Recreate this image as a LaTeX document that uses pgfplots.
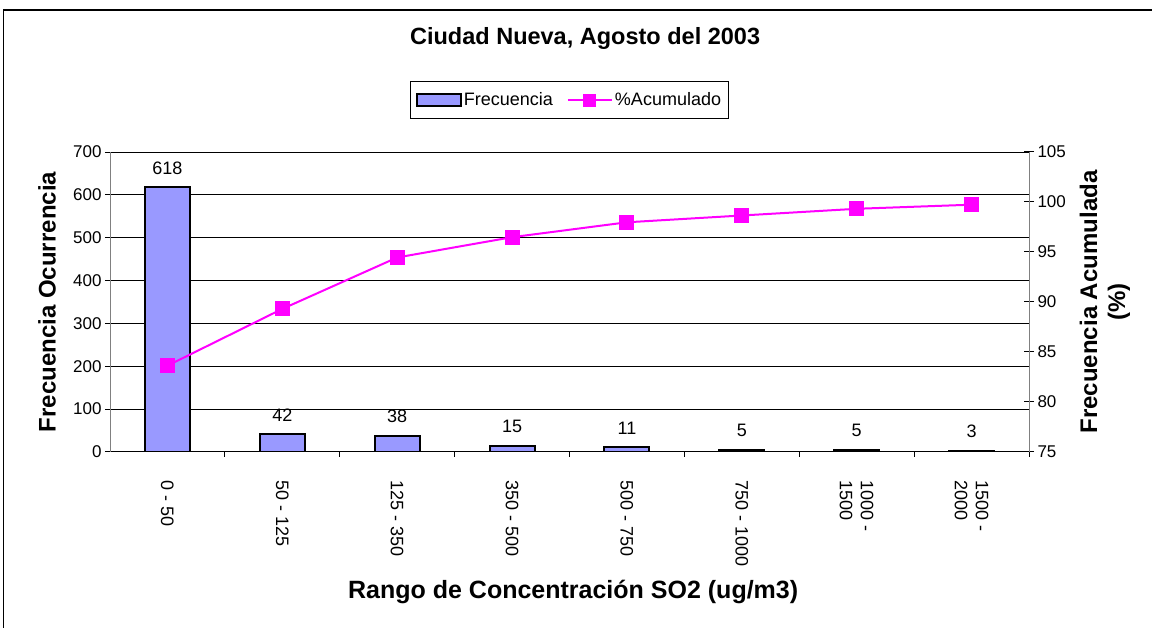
\documentclass[border=0pt]{standalone}
\usepackage{pgfplots}
\pgfplotsset{compat=1.18}
\usepackage{fontspec}
\setmainfont{Liberation Sans}
\definecolor{barblue}{HTML}{9999FF}
\definecolor{mag}{HTML}{FF00FF}
\pgfkeys{/pgf/number format/assume math mode=true}
\begin{document}
\begin{tikzpicture}
\useasboundingbox (0,0) rectangle (1152pt,628pt);
\fill[white] (0,0) rectangle (1152pt,628pt);
\draw[line width=1.5pt] (3.5pt,0) -- (3.5pt,618pt) -- (1152pt,618pt);
\begin{axis}[
  at={(110pt,176pt)}, anchor=south west,
  scale only axis, width=919pt, height=300pt,
  xmin=-0.5, xmax=7.5, ymin=0, ymax=700,
  ytick={0,100,...,700},
  xtick={0,...,7},
  xticklabels={0 - 50, 50 - 125, 125 - 350, 350 - 500, 500 - 750, 750 - 1000, {1000 -\\1500}, {1500 -\\2000}},
  minor xtick={0.5,1.5,...,6.5,7.5},
  x tick style={draw=none},
  minor x tick style={draw=black, line width=1pt},
  minor tick length=5pt,
  major tick length=5pt,
  tick align=outside,
  y tick style={black, line width=1pt},
  axis x line*=bottom, axis y line*=left,
  x axis line style={black, line width=1pt, -},
  y axis line style={gray, line width=1pt, -},
  ymajorgrids, major grid style={black, line width=1pt},
  yticklabel style={font=\fontsize{17}{19}\selectfont},
  xticklabel style={font=\fontsize{18}{21}\selectfont, rotate=-90, anchor=west, align=left},
  xticklabel shift=20pt,
  title={Ciudad Nueva, Agosto del 2003},
  title style={at={(axis description cs:0.517,1.357)}, anchor=center, font=\bfseries\fontsize{23.5}{26}\selectfont},
  xlabel={Rango de Concentración SO2 (ug/m3)},
  xlabel style={at={(axis description cs:0.504,-0.467)}, anchor=center, font=\bfseries\fontsize{25}{28}\selectfont},
  ylabel={Frecuencia Ocurrencia},
  ylabel style={at={(axis description cs:-0.0686,0.5)}, anchor=center, font=\bfseries\fontsize{24}{27}\selectfont},
  nodes near coords,
  every node near coord/.append style={font=\fontsize{18}{20}\selectfont, anchor=center, yshift=19pt, black},
]
\addplot[ybar, bar width=45pt, fill=barblue, draw=black, line width=2pt] coordinates {
  (0,618) (1,42) (2,38) (3,15) (4,11) (5,5) (6,5) (7,3)
};
\end{axis}
\begin{axis}[
  at={(110pt,176pt)}, anchor=south west,
  scale only axis, width=919pt, height=300pt,
  xmin=-0.5, xmax=7.5, ymin=75, ymax=105,
  ytick={75,80,...,105},
  axis x line=none, axis y line*=right,
  y axis line style={gray, line width=1pt, -},
  y tick style={black, line width=1pt},
  tick align=center, major tick length=10pt,
  yticklabel style={font=\fontsize{17}{19}\selectfont},
  ylabel={Frecuencia Acumulada\\(\%)},
  ylabel style={at={(axis description cs:1.0827,0.5)}, anchor=center, align=center, font=\bfseries\fontsize{24}{28}\selectfont},
  legend style={at={(axis description cs:0.5,1.173)}, anchor=center, draw=black, line width=1pt,
    font=\fontsize{18}{20}\selectfont, inner xsep=5pt, inner ysep=9pt},
  legend columns=-1,
  legend cell align=left,
  /tikz/every even column/.append style={column sep=12pt},
]
\addlegendimage{legend image code/.code={\draw[fill=barblue, draw=black, line width=2pt] (0pt,-6pt) rectangle (44pt,6pt);}}
\addlegendentry{Frecuencia}
\addlegendimage{legend image code/.code={\draw[mag, line width=2pt, mark=square*, mark size=6pt, mark repeat=2, mark phase=2, mark options={solid, fill=mag, draw=mag, line width=0pt}] plot coordinates {(0pt,0pt) (22pt,0pt) (44pt,0pt)};}}
\addlegendentry{\%Acumulado}
\addplot[mag, line width=2pt, mark=square*, mark size=7pt, mark options={solid, fill=mag, draw=mag, line width=0pt}, forget plot] coordinates {
  (0,83.63) (1,89.31) (2,94.45) (3,96.48) (4,97.97) (5,98.65) (6,99.32) (7,99.73)
};
\end{axis}
\end{tikzpicture}
\end{document}
